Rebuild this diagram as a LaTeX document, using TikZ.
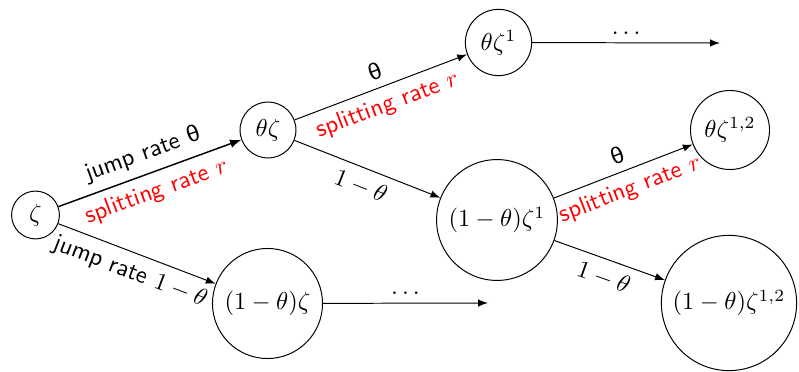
\documentclass[tikz,border=0pt]{standalone}
\usepackage{fontspec}
\usetikzlibrary{arrows}
\newfontfamily\grk{Liberation Sans}[Scale=0.95]
\tikzset{
  st/.style={circle,draw,inner sep=3.33pt},
  arr/.style={-latex},
  lab/.style={font=\sffamily,sloped},
  redlab/.style={font=\sffamily,sloped,text=red}
}
\begin{document}
\begin{tikzpicture}[x=0.408pt,y=-0.408pt]
\useasboundingbox (0,0) rectangle (799,372);
\node[st] (z) at (35.5,215) {$\zeta$};
\node[st] (tz) at (268,130) {$\theta\zeta$};
\node[st] (tz1) at (498.5,42.5) {$\theta\zeta^1$};
\node[st] (otz1) at (497,220) {$(1-\theta)\zeta^1$};
\node[st] (tz12) at (730,130) {$\theta\zeta^{1,2}$};
\node[st] (otz) at (267.5,303.5) {$(1-\theta)\zeta$};
\node[st] (otz12) at (729,303) {$(1-\theta)\zeta^{1,2}$};
\coordinate (e1) at (720,43);
\coordinate (e2) at (488,303);
\draw[arr,line width=0.6pt] (z) -- node[lab,above]{jump rate {\grk θ}} node[redlab,below]{splitting rate $r$} (tz);
\draw[arr] (z) -- node[lab,below]{jump rate $1-\theta$} (otz);
\draw[arr] (tz) -- node[lab,above]{\grk θ} node[redlab,below]{splitting rate $r$} (tz1);
\draw[arr] (tz) -- node[lab,below]{$1-\theta$} (otz1);
\draw[arr] (otz1) -- node[lab,above]{\grk θ} node[redlab,below]{splitting rate $r$} (tz12);
\draw[arr] (otz1) -- node[lab,below]{$1-\theta$} (otz12);
\draw[arr] (tz1) -- node[above]{$\dots$} (e1);
\draw[arr] (otz) -- node[above]{$\dots$} (e2);
\end{tikzpicture}
\end{document}
